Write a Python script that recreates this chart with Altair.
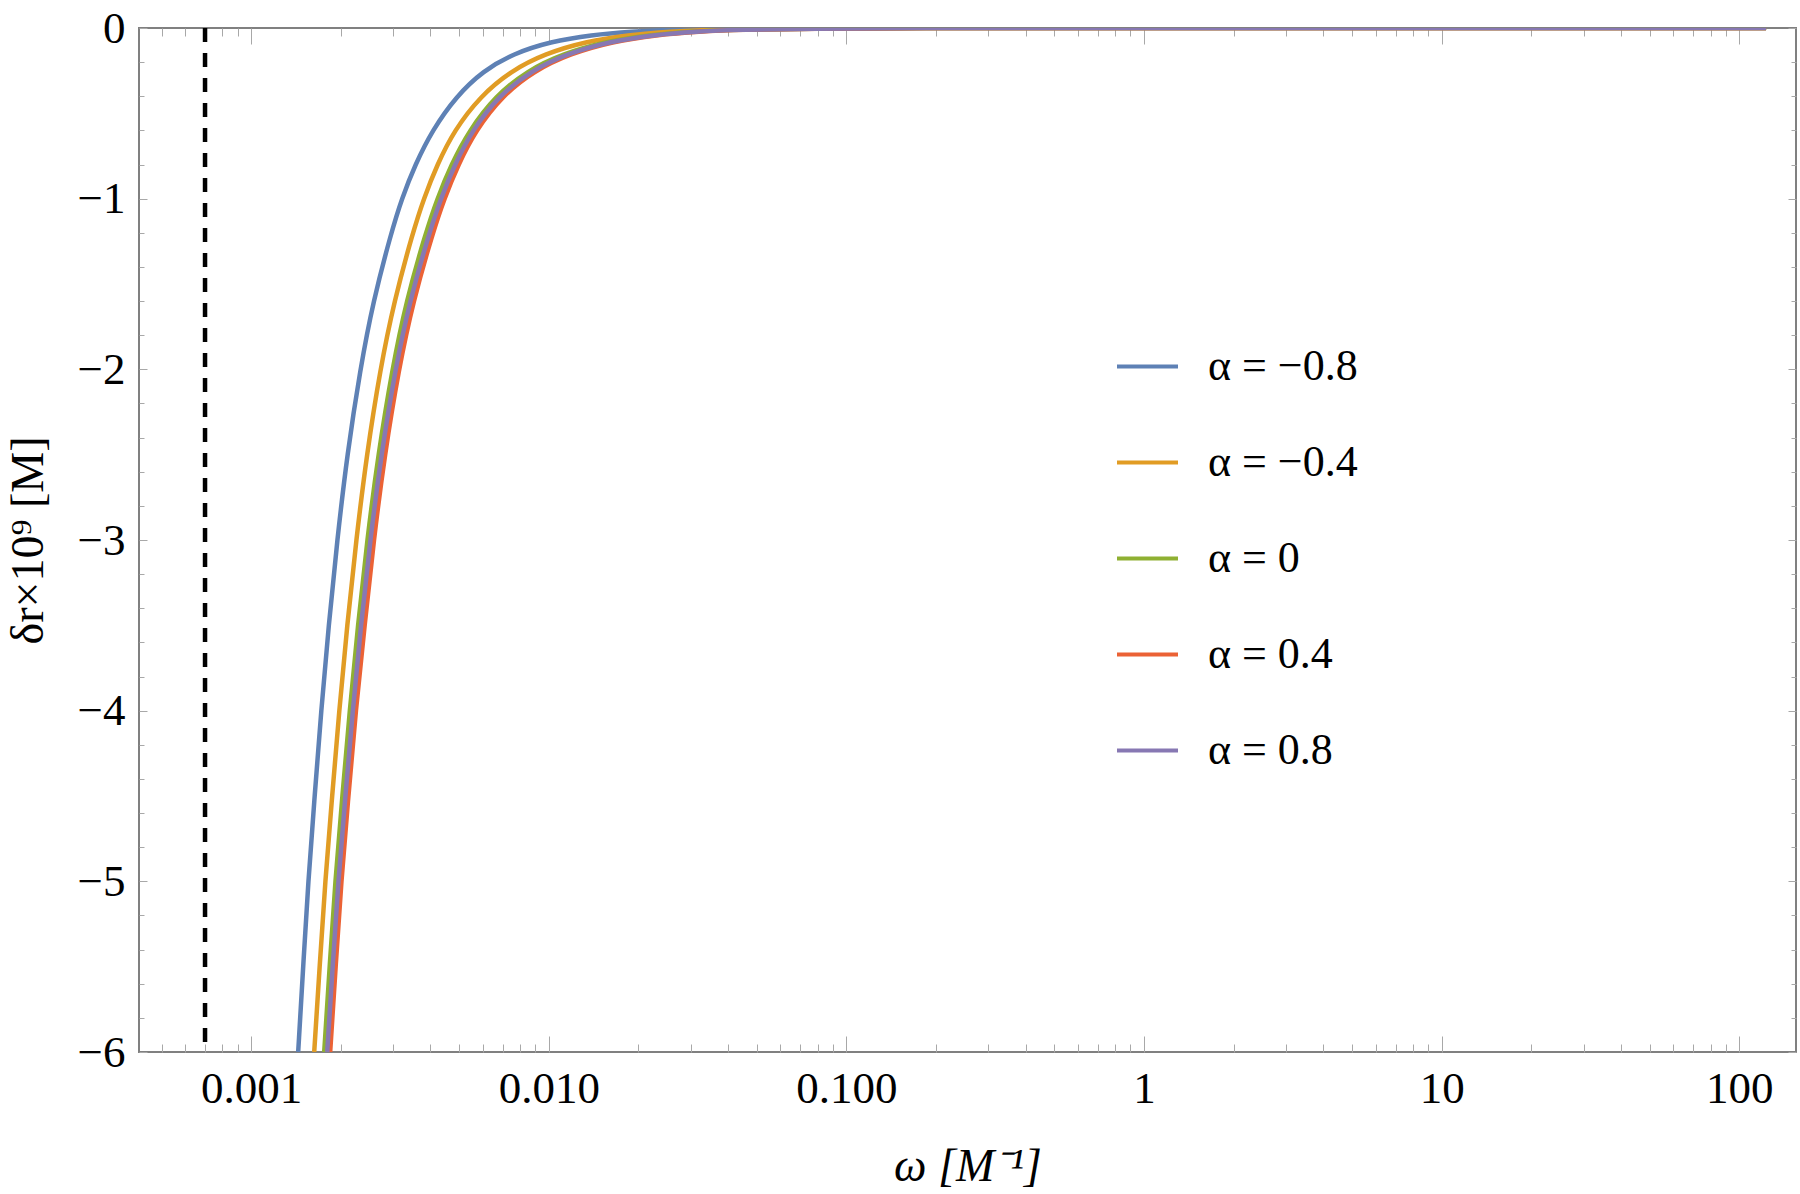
import altair as alt
import pandas as pd

# Curve labels and their colours (drawn in this order, last on top)
SERIES = ["α = −0.8", "α = −0.4", "α = 0", "α = 0.4", "α = 0.8"]
COLORS = ["#5E81B5", "#E19C24", "#8FB032", "#EB6235", "#8778B3"]

# δr×10⁹ levels at which every curve is sampled
DR_LEVELS = [-6, -5.5, -5, -4.5, -4, -3.5, -3, -2.5, -2, -1.6, -1.2, -1.0,
             -0.8, -0.6, -0.4, -0.25, -0.15, -0.08, -0.04, -0.02, -0.01, -0.003]

# ω values (in M⁻¹) reached by each curve at the levels above
OMEGA_M08 = [0.001439, 0.001496, 0.001555, 0.001635, 0.001719, 0.001822,
             0.001946, 0.002102, 0.002325, 0.002571, 0.002955, 0.003206,
             0.003559, 0.004059, 0.004887, 0.006024, 0.007598, 0.01012,
             0.01389, 0.01909, 0.02601, 0.04684]
OMEGA_M04 = [0.001629, 0.001699, 0.001773, 0.001872, 0.001976, 0.002102,
             0.002254, 0.002445, 0.002714, 0.003024, 0.003491, 0.0038,
             0.004219, 0.004812, 0.005885, 0.007481, 0.009732, 0.01327,
             0.0185, 0.02561, 0.03518, 0.06383]
OMEGA_0 = [0.00176, 0.001836, 0.001916, 0.002026, 0.002143, 0.002285,
           0.002454, 0.002672, 0.002978, 0.00332, 0.00386, 0.00422,
           0.004702, 0.005405, 0.006609, 0.008467, 0.01119, 0.01549,
           0.02177, 0.03036, 0.0417, 0.07568]
OMEGA_P04 = [0.001843, 0.001923, 0.002007, 0.002123, 0.002245, 0.002407,
             0.002581, 0.00281, 0.003131, 0.003504, 0.004075, 0.004454,
             0.004964, 0.005684, 0.006951, 0.008939, 0.01181, 0.01635,
             0.02298, 0.03205, 0.04402, 0.08051]
OMEGA_P08 = [0.001801, 0.001879, 0.001961, 0.002074, 0.002194, 0.002338,
             0.002512, 0.002735, 0.003049, 0.00341, 0.003966, 0.004334,
             0.004831, 0.005531, 0.006765, 0.008734, 0.01154, 0.01597,
             0.02245, 0.03132, 0.04301, 0.07806]

# flat tail once the shift has vanished
TAIL_OMEGA = [0.15, 1, 10, 123]
TAIL_DR = [0, 0, 0, 0]

# dashed vertical marker
OMEGA_MARK = 0.0007

# axes
X_DOMAIN = [0.00042, 155]
Y_DOMAIN = [-6, 0]
X_MAJOR = [0.001, 0.01, 0.1, 1, 10, 100]
X_MINOR = [m * 10.0 ** e for e in range(-4, 2) for m in range(2, 10)
           if X_DOMAIN[0] <= m * 10.0 ** e <= X_DOMAIN[1]]
Y_MAJOR = [-6, -5, -4, -3, -2, -1, 0]
Y_MINOR = [round(-6 + 0.2 * i, 1) for i in range(31) if i % 5 != 0]

FONT = "Liberation Serif"
TICK_COLOR = "#a8a8a8"
W, H = 1657, 1024

rows = []
for name, omegas in zip(SERIES, [OMEGA_M08, OMEGA_M04, OMEGA_0, OMEGA_P04, OMEGA_P08]):
    for w, d in zip(omegas + TAIL_OMEGA, DR_LEVELS + TAIL_DR):
        rows.append({"series": name, "omega": w, "dr": d})
df = pd.DataFrame(rows)

xs = alt.Scale(type="log", domain=X_DOMAIN, nice=False)
ys = alt.Scale(domain=Y_DOMAIN, nice=False, zero=False)

legend = alt.Legend(
    title=None, orient="none", legendX=976, legendY=306,
    symbolType="stroke", symbolSize=3721, symbolStrokeWidth=4,
    labelFont=FONT, labelFontSize=44, labelColor="black",
    labelOffset=28, labelLimit=400, rowPadding=41,
)
color = alt.Color("series:N", scale=alt.Scale(domain=SERIES, range=COLORS), legend=legend)

x_main = alt.Axis(
    orient="bottom", values=X_MAJOR, ticks=False, domain=False, grid=False,
    labelExpr="datum.value < 1 ? format(datum.value, '.3f') : format(datum.value, 'd')",
    labelFont=FONT, labelFontSize=45, labelColor="black", labelPadding=14,
    labelFlush=False, labelOverlap=False,
    title="ω [M⁻¹]", titleFont=FONT, titleFontSize=46, titleFontStyle="italic",
    titleFontWeight="normal", titleColor="black", titlePadding=33,
)
y_main = alt.Axis(
    orient="left", values=Y_MAJOR, ticks=False, domain=False, grid=False,
    labelFont=FONT, labelFontSize=45, labelColor="black", labelPadding=14,
    labelFlush=False, labelOverlap=False,
    title="δr×10⁹ [M]", titleFont=FONT, titleFontSize=46,
    titleFontWeight="normal", titleColor="black", titlePadding=25,
)


def tick_axis(orient, values, size):
    # ticks only, shifted inward so they point into the frame
    return alt.Axis(orient=orient, values=values, tickSize=size, offset=-size,
                    labels=False, domain=False, grid=False, title=None,
                    tickColor=TICK_COLOR, tickWidth=1)


layers = []
for i, name in enumerate(SERIES):
    layers.append(
        alt.Chart(df[df["series"] == name])
        .mark_line(strokeWidth=4.5, interpolate="basis", clip=True)
        .encode(
            x=alt.X("omega:Q", scale=xs, axis=x_main if i == 0 else None),
            y=alt.Y("dr:Q", scale=ys, axis=y_main if i == 0 else None),
            color=color,
        )
    )

marker = alt.Chart(pd.DataFrame({"omega": [OMEGA_MARK]})).mark_rule(
    color="black", strokeWidth=4.5, strokeDash=[14, 11]
).encode(x=alt.X("omega:Q", scale=xs, axis=None))

carrier_df = pd.DataFrame({"omega": [1.0], "dr": [-3.0]})
tick_specs = [
    (tick_axis("bottom", X_MAJOR, 16), tick_axis("left", Y_MAJOR, 8)),
    (tick_axis("bottom", X_MINOR, 8), tick_axis("left", Y_MINOR, 5)),
    (tick_axis("top", X_MAJOR, 16), tick_axis("right", Y_MAJOR, 8)),
    (tick_axis("top", X_MINOR, 8), tick_axis("right", Y_MINOR, 5)),
]
carriers = [
    alt.Chart(carrier_df).mark_point(opacity=0).encode(
        x=alt.X("omega:Q", scale=xs, axis=xa),
        y=alt.Y("dr:Q", scale=ys, axis=ya),
    )
    for xa, ya in tick_specs
]

chart = (
    alt.layer(*carriers, *layers, marker)
    .resolve_axis(x="independent", y="independent")
    .properties(
        width=W, height=H,
        autosize=alt.AutoSizeParams(type="none"),
        padding={"left": 139, "top": 28, "right": 4, "bottom": 142},
        background="white",
    )
    .configure_view(stroke="#808080", strokeWidth=2)
)

chart.save("out.html", embed_options={"renderer": "svg", "actions": False})
